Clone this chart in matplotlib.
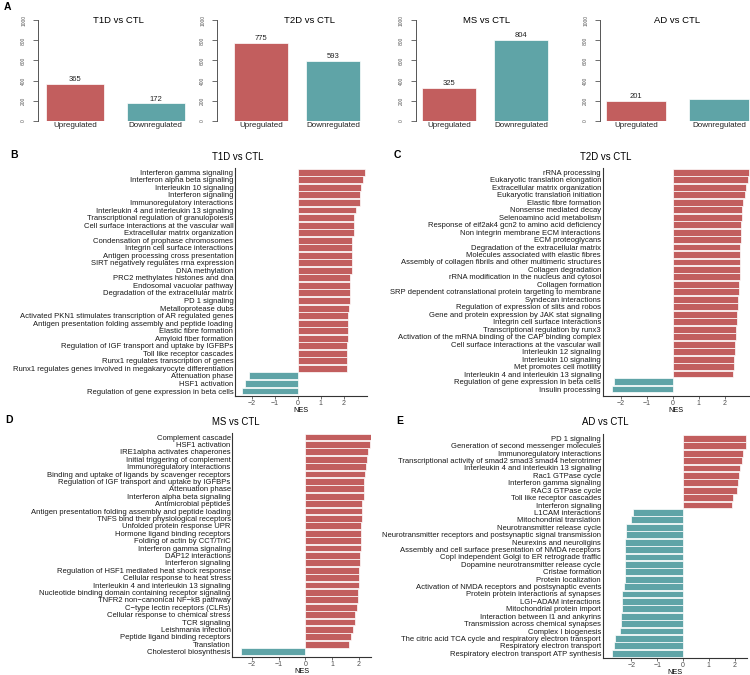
import matplotlib.pyplot as plt

plt.rcParams['font.family'] = ['Liberation Sans', 'DejaVu Sans']

RED = '#C25E5E'
TEAL = '#5FA4A7'
W, H = 750, 675

# ---- panel A data: number of DEGs ----
deg_titles = ['T1D vs CTL', 'T2D vs CTL', 'MS vs CTL', 'AD vs CTL']
deg_up = [365, 775, 325, 201]
deg_down = [172, 593, 804, 220]
deg_down_label = [True, True, True, False]
bar_names = ['Upregulated', 'Downregulated']

# ---- panels B-E data: GSEA NES ----
b_terms = ['Interferon gamma signaling', 'Interferon alpha beta signaling', 'Interleukin 10 signaling',
           'Interferon signaling', 'Immunoregulatory interactions', 'Interleukin 4 and interleukin 13 signaling',
           'Transcriptional regulation of granulopoiesis', 'Cell surface interactions at the vascular wall',
           'Extracellular matrix organization', 'Condensation of prophase chromosomes',
           'Integrin cell surface interactions', 'Antigen processing cross presentation',
           'SIRT negatively regulates rrna expression', 'DNA methylation', 'PRC2 methylates histones and dna',
           'Endosomal vacuolar pathway', 'Degradation of the extracellular matrix', 'PD 1 signaling',
           'Metalloprotease dubs', 'Activated PKN1 stimulates transcription of AR regulated genes',
           'Antigen presentation folding assembly and peptide loading', 'Elastic fibre formation',
           'Amyloid fiber formation', 'Regulation of IGF transport and uptake by IGFBPs',
           'Toll like receptor cascades', 'Runx1 regulates transcription of genes',
           'Runx1 regulates genes involved in megakaryocyte differentiation', 'Attenuation phase',
           'HSF1 activation', 'Regulation of gene expression in beta cells']
b_nes = [2.93, 2.86, 2.75, 2.72, 2.71, 2.52, 2.46, 2.43, 2.43, 2.37, 2.37, 2.37, 2.36, 2.34, 2.27,
         2.27, 2.27, 2.26, 2.24, 2.20, 2.18, 2.18, 2.18, 2.16, 2.16, 2.14, 2.14, -2.12, -2.28, -2.42]

c_terms = ['rRNA processing', 'Eukaryotic translation elongation', 'Extracellular matrix organization',
           'Eukaryotic translation initiation', 'Elastic fibre formation', 'Nonsense mediated decay',
           'Selenoamino acid metabolism', 'Response of eif2ak4 gcn2 to amino acid deficiency',
           'Non integrin membrane ECM interactions', 'ECM proteoglycans',
           'Degradation of the extracellular matrix', 'Molecules associated with elastic fibres',
           'Assembly of collagen fibrils and other multimeric structures', 'Collagen degradation',
           'rRNA modification in the nucleus and cytosol', 'Collagen formation',
           'SRP dependent cotranslational protein targeting to membrane', 'Syndecan interactions',
           'Regulation of expression of slits and robos', 'Gene and protein expression by JAK stat signaling',
           'Integrin cell surface interactions', 'Transcriptional regulation by runx3',
           'Activation of the mRNA binding of the CAP binding complex',
           'Cell surface interactions at the vascular wall', 'Interleukin 12 signaling',
           'Interleukin 10 signaling', 'Met promotes cell motility',
           'Interleukin 4 and interleukin 13 signaling', 'Regulation of gene expression in beta cells',
           'Insulin processing']
c_nes = [2.95, 2.90, 2.83, 2.78, 2.71, 2.68, 2.65, 2.63, 2.62, 2.62, 2.60, 2.60, 2.59, 2.59, 2.58,
         2.56, 2.56, 2.50, 2.50, 2.47, 2.46, 2.42, 2.42, 2.41, 2.40, 2.37, 2.37, 2.33, -2.27, -2.33]

d_terms = ['Complement cascade', 'HSF1 activation', 'IRE1alpha activates chaperones',
           'Initial triggering of complement', 'Immunoregulatory interactions',
           'Binding and uptake of ligands by scavenger receptors',
           'Regulation of IGF transport and uptake by IGFBPs', 'Attenuation phase',
           'Interferon alpha beta signaling', 'Antimicrobial peptides',
           'Antigen presentation folding assembly and peptide loading',
           'TNFS bind their physiological receptors', 'Unfolded protein response UPR',
           'Hormone ligand binding receptors', 'Folding of actin by CCT/TriC', 'Interferon gamma signaling',
           'DAP12 interactions', 'Interferon signaling', 'Regulation of HSF1 mediated heat shock response',
           'Cellular response to heat stress', 'Interleukin 4 and interleukin 13 signaling',
           'Nucleotide binding domain containing receptor signaling', 'TNFR2 non\u2212canonical NF\u2212kB pathway',
           'C\u2212type lectin receptors (CLRs)', 'Cellular response to chemical stress', 'TCR signaling',
           'Leishmania infection', 'Peptide ligand binding receptors', 'Translation', 'Cholesterol biosynthesis']
d_nes = [2.45, 2.44, 2.33, 2.31, 2.26, 2.23, 2.19, 2.19, 2.18, 2.11, 2.11, 2.11, 2.10, 2.10, 2.09,
         2.08, 2.06, 2.03, 2.01, 2.01, 2.00, 1.99, 1.99, 1.94, 1.88, 1.85, 1.80, 1.71, 1.63, -2.41]

e_terms = ['PD 1 signaling', 'Generation of second messenger molecules', 'Immunoregulatory interactions',
           'Transcriptional activity of smad2 smad3 smad4 heterotrimer',
           'Interleukin 4 and interleukin 13 signaling', 'Rac1 GTPase cycle', 'Interferon gamma signaling',
           'RAC3 GTPase cycle', 'Toll like receptor cascades', 'Interferon signaling', 'L1CAM interactions',
           'Mitochondrial translation', 'Neurotransmitter release cycle',
           'Neurotransmitter receptors and postsynaptic signal transmission', 'Neurexins and neuroligins',
           'Assembly and cell surface presentation of NMDA receptors',
           'CopI independent Golgi to ER retrograde traffic', 'Dopamine neurotransmitter release cycle',
           'Cristae formation', 'Protein localization', 'Activation of NMDA receptors and postsynaptic events',
           'Protein protein interactions at synapses', 'LGI\u2212ADAM interactions', 'Mitochondrial protein import',
           'Interaction between l1 and ankyrins', 'Transmission across chemical synapses',
           'Complex I biogenesis', 'The citric acid TCA cycle and respiratory electron transport',
           'Respiratory electron transport', 'Respiratory electron transport ATP synthesis']
e_nes = [2.44, 2.43, 2.32, 2.28, 2.22, 2.17, 2.15, 2.09, 1.95, 1.90, -1.95, -2.01, -2.22, -2.22, -2.23,
         -2.25, -2.25, -2.26, -2.26, -2.26, -2.30, -2.35, -2.36, -2.36, -2.41, -2.41, -2.44, -2.62,
         -2.68, -2.75]


def px_axes(fig, left, top, right, bottom):
    return fig.add_axes([left / W, 1 - bottom / H, (right - left) / W, (bottom - top) / H])


fig = plt.figure(figsize=(7.5, 6.75), dpi=100)

# ---- panel A ----
# spine x, centre of bar 1, centre of bar 2, bar width (px), title x
a_layout = [(38, 75, 155.8, 58, 118), (217, 261.3, 333, 54, 310),
            (415.7, 449, 521, 54, 487), (600, 636, 719, 60, 677)]
for i, (L, c0, c1, bw, tx) in enumerate(a_layout):
    s = c1 - c0
    R = c1 + 0.6 * s
    ax = px_axes(fig, L, 20.3, R, 120.7)
    vals = [deg_up[i], deg_down[i]]
    ax.bar([0, 1], vals, width=bw / s, color=[RED, TEAL], edgecolor='white', linewidth=0.5)
    ax.set_xlim((L - c0) / s, (R - c0) / s)
    ax.set_ylim(0, 1000)
    for sp in ['top', 'right', 'bottom']:
        ax.spines[sp].set_visible(False)
    ax.spines['left'].set_color('#555555')
    ax.spines['left'].set_linewidth(0.7)
    ax.set_yticks(range(0, 1001, 200))
    ax.tick_params(axis='y', labelsize=3.5, length=3.5, width=0.6, color='#555555',
                   labelcolor='#555555', pad=5)
    for lab in ax.get_yticklabels():
        lab.set_rotation(90)
        lab.set_va('center')
    ax.set_xticks([0, 1])
    ax.set_xticklabels(bar_names)
    ax.tick_params(axis='x', length=0, labelsize=5.8, pad=1, labelcolor='#222222')
    labels = [True, deg_down_label[i]]
    for x, v, show in zip([0, 1], vals, labels):
        if show:
            ax.annotate(str(v), (x, v), xytext=(0, 0.5), textcoords='offset points',
                        ha='center', va='bottom', fontsize=5.5, color='#222222')
    ax.patch.set_alpha(0)
    fig.text(tx / W, 1 - 20.5 / H, deg_titles[i], ha='center', va='center', fontsize=6.8)

# ---- panels B-E ----
gsea = [
    ('T1D vs CTL', b_terms, b_nes, dict(L=235, zero=297.7, unit=23, right=367,
                                         first=172.3, last=391, axis=395.7, ty=157)),
    ('T2D vs CTL', c_terms, c_nes, dict(L=602.7, zero=672.7, unit=26, right=750,
                                         first=172.3, last=389, axis=395.7, ty=157)),
    ('MS vs CTL', d_terms, d_nes, dict(L=232.3, zero=305.3, unit=26.7, right=371,
                                        first=437, last=651.7, axis=656.7, ty=421.7)),
    ('AD vs CTL', e_terms, e_nes, dict(L=602.7, zero=683, unit=25.8, right=747,
                                        first=438.3, last=653.3, axis=657.7, ty=422)),
]
for title, terms, nes, g in gsea:
    n = len(terms)
    pitch = (g['last'] - g['first']) / (n - 1)
    ax = px_axes(fig, g['L'], g['first'] - 0.6 * pitch, g['right'], g['axis'])
    ypos = [n - 1 - k for k in range(n)]
    cols = [RED if v > 0 else TEAL for v in nes]
    ax.barh(ypos, nes, height=0.92, color=cols, edgecolor='white', linewidth=0.5)
    ax.set_xlim((g['L'] - g['zero']) / g['unit'], (g['right'] - g['zero']) / g['unit'])
    ax.set_ylim(-(g['axis'] - g['last']) / pitch, n - 1 + 0.6)
    ax.spines['top'].set_visible(False)
    ax.spines['right'].set_visible(False)
    for sp in ['left', 'bottom']:
        ax.spines[sp].set_color('#333333')
        ax.spines[sp].set_linewidth(0.8)
    ax.set_yticks(ypos)
    ax.set_yticklabels(terms)
    ax.tick_params(axis='y', length=0, pad=1.2, labelsize=5.5, labelcolor='#1a1a1a')
    ax.set_xticks([-2, -1, 0, 1, 2])
    ax.tick_params(axis='x', length=2, width=0.5, color='#333333', pad=0.8,
                   labelsize=5, labelcolor='#4d4d4d')
    ax.set_xlabel('NES', fontsize=5.3, labelpad=0.3)
    fig.text((g['L'] + 3) / W, 1 - g['ty'] / H, title, ha='center', va='center', fontsize=6.9)

# panel letters
for letter, x, y in [('A', 4, 7), ('B', 10, 155), ('C', 394, 155), ('D', 5, 420), ('E', 396, 421)]:
    fig.text(x / W, 1 - y / H, letter, ha='left', va='center', fontsize=7.5, fontweight='bold')

fig.savefig('out.png', dpi=100)
